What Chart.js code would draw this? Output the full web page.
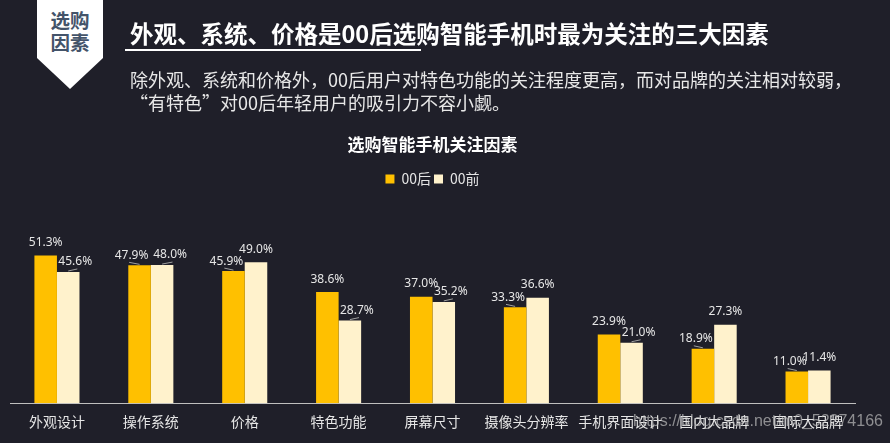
<!DOCTYPE html>
<html><head><meta charset="utf-8">
<script src="https://cdn.jsdelivr.net/npm/chart.js@4.4.1/dist/chart.umd.min.js"></script>
<style>
html,body{margin:0;padding:0;background:#1f1f29;width:890px;height:443px;overflow:hidden;font-family:"Noto Sans CJK SC","Noto Sans",sans-serif;}
#wrap{position:absolute;left:0;top:0;width:890px;height:443px;}
#c{position:absolute;left:0;top:0;}
.badge{position:absolute;left:37px;top:0;width:66px;height:89px;background:#ffffff;clip-path:polygon(0 0,66px 0,66px 58px,33px 89px,0 58px);}
.badge div{position:absolute;left:0;width:66px;text-align:center;color:#44546a;font-weight:bold;font-size:19.5px;line-height:22px;}
.title{position:absolute;left:130px;top:18px;color:#fff;font-weight:bold;font-size:23.5px;line-height:30px;white-space:nowrap;}
.uline{position:absolute;left:125px;top:49px;width:296px;height:1.5px;background:#fff;}
.sub{position:absolute;left:130px;top:68px;color:#e8e8e8;font-size:18px;line-height:23px;white-space:nowrap;}
.wm{position:absolute;left:633px;top:411px;color:rgba(190,190,190,0.7);font-family:"Liberation Sans",sans-serif;font-size:16px;line-height:20px;white-space:nowrap;}
</style></head>
<body>
<div id="wrap"><canvas id="c" width="890" height="443"></canvas></div>
<div class="badge"><div style="top:9px">选购</div><div style="top:31px">因素</div></div>
<div class="title">外观、系统、价格是00后选购智能手机时最为关注的三大因素</div>
<div class="uline"></div>
<div class="sub">除外观、系统和价格外，00后用户对特色功能的关注程度更高，而对品牌的关注相对较弱，<br>“有特色”对00后年轻用户的吸引力不容小觑。</div>
<div class="wm">https://blog.csdn.net/m0_52274166</div>
<script>
const categories = ['外观设计','操作系统','价格','特色功能','屏幕尺寸','摄像头分辨率','手机界面设计','国内大品牌','国际大品牌'];
const after00 = [51.3, 47.9, 45.9, 38.6, 37.0, 33.3, 23.9, 18.9, 11.0];
const before00 = [45.6, 48.0, 49.0, 28.7, 35.2, 36.6, 21.0, 27.3, 11.4];
const seriesNames = ['00后','00前'];
const chartTitle = '选购智能手机关注因素';

Chart.defaults.font.family = '"Noto Sans CJK SC","Noto Sans",sans-serif';

const labelPlugin = {
  id: 'barLabels',
  afterDatasetsDraw(chart) {
    const ctx = chart.ctx;
    const m0 = chart.getDatasetMeta(0), m1 = chart.getDatasetMeta(1);
    ctx.save();
    ctx.font = '12px "Noto Sans","Noto Sans CJK SC",sans-serif';
    ctx.fillStyle = '#e6e6e6';
    ctx.textAlign = 'center';
    ctx.textBaseline = 'middle';
    ctx.strokeStyle = '#a0a0a0';
    ctx.lineWidth = 1;
    for (let i = 0; i < categories.length; i++) {
      const b0 = m0.data[i], b1 = m1.data[i];
      const dy = b1.y - b0.y;
      let s0 = 0, s1 = 0;
      if (Math.abs(dy) < 0.8) { s0 = -8; s1 = 8; }
      else if (Math.abs(dy) < 30) { if (dy > 0) s1 = 7; else s0 = -7; }
      const items = [[b0, s0, after00[i]], [b1, s1, before00[i]]];
      items.forEach(([b, s, v]) => {
        const x = b.x + s;
        const y = b.y - (s ? 10 : 13);
        ctx.fillText(v.toFixed(1) + '%', x, y);
        if (s) {
          ctx.beginPath();
          ctx.moveTo(b.x, b.y - 1);
          ctx.lineTo(b.x + s * 1.3, b.y - 3);
          ctx.stroke();
        }
      });
    }
    ctx.restore();
  }
};

new Chart(document.getElementById('c'), {
  type: 'bar',
  data: {
    labels: categories,
    datasets: [
      { label: seriesNames[0], data: after00, backgroundColor: '#FFC000', borderWidth: 0 },
      { label: seriesNames[1], data: before00, backgroundColor: '#FFF2CC', borderWidth: 0 }
    ]
  },
  options: {
    responsive: false,
    animation: false,
    devicePixelRatio: 1,
    datasets: { bar: { categoryPercentage: 0.48, barPercentage: 1.0 } },
    layout: { padding: { top: 120, left: 10, right: 35, bottom: 3 } },
    plugins: {
      title: { display: true, text: chartTitle, color: '#ffffff',
        font: { size: 17, weight: 'bold' }, padding: { top: 14.8, bottom: 13.8 } },
      legend: { display: true, position: 'top',
        labels: { boxWidth: 9, boxHeight: 9, padding: 3, color: '#e6e6e6', font: { size: 14 } } },
      tooltip: { enabled: false }
    },
    scales: {
      x: {
        grid: { display: false, drawTicks: false },
        border: { display: true, color: '#bfbfbf', width: 1 },
        ticks: { color: '#e6e6e6', font: { size: 14 }, padding: 10, maxRotation: 0, autoSkip: false }
      },
      y: { display: false, min: 0, max: 72 }
    }
  },
  plugins: [labelPlugin]
});
</script>
</body></html>
